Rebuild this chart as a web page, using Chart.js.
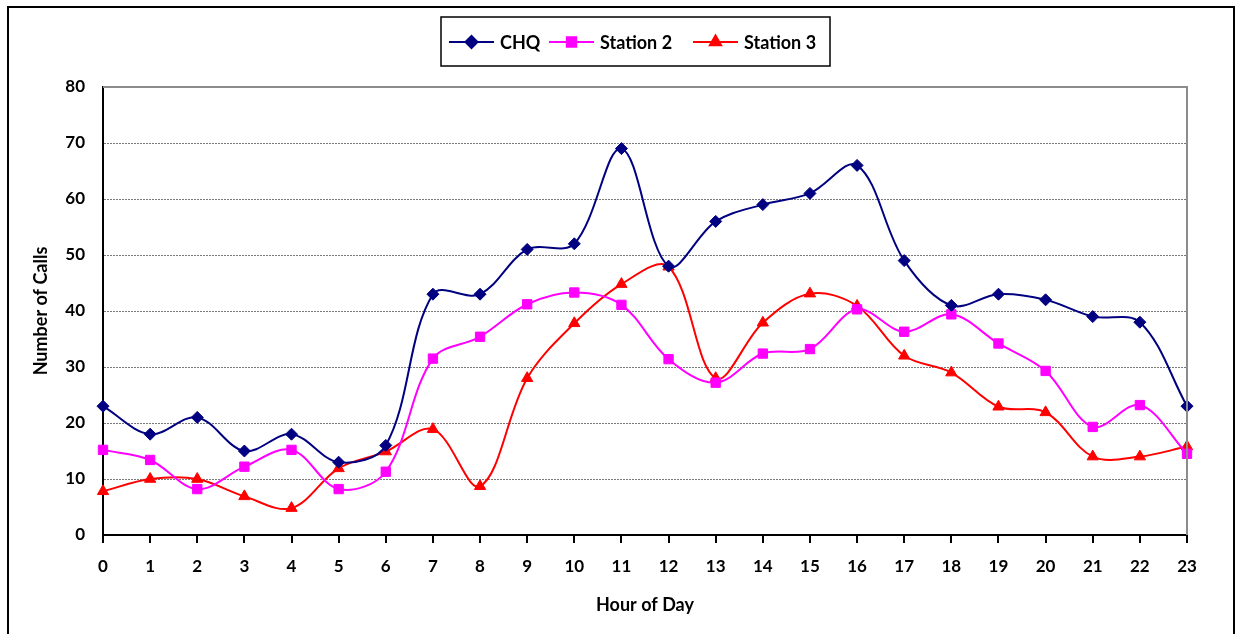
<!DOCTYPE html>
<html>
<head>
<meta charset="utf-8">
<script src="https://cdn.jsdelivr.net/npm/chart.js@4"></script>
<style>
  html, body { margin: 0; padding: 0; background: #fff; overflow: hidden; }
  #moldura { position: absolute; left: 7px; top: 6px; width: 1224px; height: 700px; border: 2px solid #000; }
  #grafico { position: absolute; left: 0; top: 0; }
</style>
</head>
<body>
<div id="moldura"></div>
<canvas id="grafico" width="1235" height="634"></canvas>
<script>
// horas do dia
const horas = ['0','1','2','3','4','5','6','7','8','9','10','11','12','13','14','15','16','17','18','19','20','21','22','23']

// chamadas por hora
const chq = [23, 18, 21, 15, 18, 13, 16, 43, 43, 51, 52, 69, 48, 56, 59, 61, 66, 49, 41, 43, 42, 39, 38, 23]
const station2 = [15.2, 13.4, 8.2, 12.2, 15.2, 8.2, 11.3, 31.5, 35.4, 41.2, 43.3, 41.1, 31.4, 27.2, 32.4, 33.2, 40.3, 36.3, 39.4, 34.2, 29.3, 19.3, 23.2, 14.5]
const station3 = [7.8, 10, 10, 6.9, 4.8, 11.9, 14.9, 18.9, 8.7, 28, 37.8, 44.8, 47.9, 28, 37.9, 43.1, 40.9, 32, 29, 22.9, 21.9, 14, 14, 15.8]

// ticks do eixo y
const ticksY = [0, 10, 20, 30, 40, 50, 60, 70, 80]

const fonte = 'Lato, "Open Sans", sans-serif'

function serie(nome, dados, cor, estilo, raio) {
    return {
        label: nome,
        data: dados,
        borderColor: cor,
        backgroundColor: cor,
        borderWidth: 2,
        pointStyle: estilo,
        pointRadius: raio,
        pointHoverRadius: raio,
        pointBorderWidth: 1,
        tension: 0.35,
        fill: false
    }
}

// legenda com linha + marcador dentro de uma caixa
const legendaCaixa = {
    id: 'legendaCaixa',
    afterDraw(chart) {
        const ctx = chart.ctx
        const area = chart.chartArea
        ctx.save()

        // bordas cinza do topo e da direita da area do grafico
        ctx.strokeStyle = '#8c8c8c'
        ctx.lineWidth = 2
        ctx.beginPath()
        ctx.moveTo(area.left, area.top)
        ctx.lineTo(area.right, area.top)
        ctx.lineTo(area.right, area.bottom)
        ctx.stroke()

        ctx.strokeStyle = '#000'
        ctx.lineWidth = 1.5
        ctx.strokeRect(441, 17, 389, 49)

        const posicoes = [449, 549, 693]
        const meioY = 42
        ctx.font = 'bold 18px ' + fonte
        ctx.textBaseline = 'middle'
        ctx.textAlign = 'left'
        chart.data.datasets.forEach((ds, i) => {
            const x0 = posicoes[i]
            ctx.strokeStyle = ds.borderColor
            ctx.fillStyle = ds.backgroundColor
            ctx.lineWidth = 2
            ctx.beginPath()
            ctx.moveTo(x0, meioY)
            ctx.lineTo(x0 + 45, meioY)
            ctx.stroke()
            Chart.helpers.drawPoint(ctx, {
                pointStyle: ds.pointStyle,
                radius: ds.pointRadius,
                rotation: 0,
                borderWidth: 1
            }, x0 + 22.5, meioY)
            ctx.fillStyle = '#000'
            ctx.fillText(ds.label, x0 + 51, meioY + 1)
        })
        ctx.restore()
    }
}

const ctx = document.getElementById('grafico').getContext('2d')
new Chart(ctx, {
    type: 'line',
    data: {
        labels: horas,
        datasets: [
            serie('CHQ', chq, '#000080', 'rectRot', 6),
            serie('Station 2', station2, '#ff00ff', 'rect', 6.6),
            serie('Station 3', station3, '#ff0000', 'triangle', 6.5)
        ]
    },
    options: {
        responsive: false,
        animation: false,
        devicePixelRatio: 1,
        layout: { padding: { top: 87, right: 48, bottom: 0, left: 0 } },
        plugins: {
            legend: { display: false },
            tooltip: { enabled: false }
        },
        scales: {
            x: {
                offset: false,
                afterFit(scale) { scale.height = 99 },
                grid: { drawOnChartArea: false, drawTicks: true, tickLength: 8, color: '#000', lineWidth: 2 },
                border: { color: '#000', width: 2 },
                ticks: { color: '#000', font: { family: fonte, size: 17, weight: 'bold' }, padding: 13, maxRotation: 0, autoSkip: false },
                title: { display: true, text: 'Hour of Day', color: '#000', font: { family: fonte, size: 18, weight: 'bold' }, padding: { top: 0, bottom: 18 } }
            },
            y: {
                min: 0,
                max: 80,
                afterFit(scale) { scale.width = 103 },
                afterBuildTicks(scale) { scale.ticks = ticksY.map(v => ({ value: v })) },
                grid: { drawTicks: false, color: '#7a7a7a', lineWidth: 1 },
                border: { color: '#000', width: 2, dash: [2, 1] },
                ticks: { color: '#000', font: { family: fonte, size: 17, weight: 'bold' }, padding: 18 },
                title: { display: true, text: 'Number of Calls', color: '#000', font: { family: fonte, size: 18, weight: 'bold' }, padding: { top: 30, bottom: 0 } }
            }
        }
    },
    plugins: [legendaCaixa]
})
</script>
</body>
</html>
